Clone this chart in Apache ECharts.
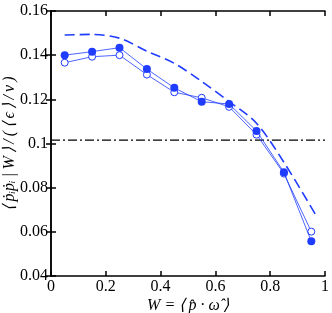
<!DOCTYPE html>
<html><head><meta charset="utf-8">
<script src="https://cdn.jsdelivr.net/npm/echarts@6/dist/echarts.min.js"></script>
<style>html,body{margin:0;padding:0;background:#fff}#c{width:332px;height:313px}</style>
</head><body><div id="c"></div>
<script>
const W = [0.05, 0.15, 0.25, 0.35, 0.45, 0.55, 0.65, 0.75, 0.85, 0.95];
const filled = [0.140, 0.1416, 0.1434, 0.1337, 0.1252, 0.1189, 0.1179, 0.1057, 0.0870, 0.0557];
const open = [0.1366, 0.1393, 0.1400, 0.1312, 0.1232, 0.1207, 0.1166, 0.1040, 0.0864, 0.0601];
const dashedW = [0.05, 0.15, 0.25, 0.35, 0.45, 0.55, 0.65, 0.75, 0.85, 0.97];
const dashedV = [0.1491, 0.1494, 0.1477, 0.1418, 0.1363, 0.1281, 0.1190, 0.1092, 0.0915, 0.0669];
const refLevel = 0.1015;
const xTicks = [0, 0.2, 0.4, 0.6, 0.8, 1];
const yTicks = [0.04, 0.06, 0.08, 0.1, 0.12, 0.14, 0.16];

const blue = '#1f3cff';
const serif = 'Liberation Serif';
const pair = (xs, ys) => xs.map((x, i) => [x, ys[i]]);
const fmt = v => String(+(+v).toFixed(2));
const t = '\u2009';

const chart = echarts.init(document.getElementById('c'));
const axisCommon = {
  axisLine: {show: true, lineStyle: {color: '#000', width: 1.5}},
  axisTick: {show: true, inside: true, length: 5, lineStyle: {color: '#000', width: 1.5}},
  splitLine: {show: false}
};
chart.setOption({
  animation: false,
  grid: {left: 51, right: 7, top: 11, bottom: 37, containLabel: false, outerBoundsMode: 'none'},
  xAxis: [
    Object.assign({type: 'value', min: 0, max: 1, interval: 0.2, position: 'bottom',
      axisLabel: {formatter: fmt, fontFamily: serif, fontSize: 16, color: '#000', margin: 3},
      name: 'W = ⟨' + t + 'p̂ · ω̂' + t + '⟩', nameLocation: 'middle', nameGap: 22, nameMoveOverlap: false,
      nameTextStyle: {fontFamily: serif, fontStyle: 'italic', fontSize: 16, color: '#000'}}, axisCommon),
    Object.assign({type: 'value', min: 0, max: 1, interval: 0.2, position: 'top',
      axisLabel: {show: false}}, axisCommon)
  ],
  yAxis: [
    Object.assign({type: 'value', min: 0.04, max: 0.16, interval: 0.02, position: 'left',
      axisLabel: {formatter: fmt, fontFamily: serif, fontSize: 16, color: '#000', margin: 3},
      name: '⟨' + t + 'ṗᵢṗᵢ' + t + '|' + t + 'W' + t + '⟩' + t + '/' + t + '(' + t + '⟨' + t + 'ϵ' + t + '⟩' + t + '/' + t + 'ν' + t + ')',
      nameLocation: 'middle', nameGap: 33, nameMoveOverlap: false,
      nameTextStyle: {fontFamily: serif, fontStyle: 'italic', fontSize: 16, color: '#000'}}, axisCommon),
    Object.assign({type: 'value', min: 0.04, max: 0.16, interval: 0.02, position: 'right',
      axisLabel: {show: false}}, axisCommon)
  ],
  series: [
    {type: 'line', data: [[0, refLevel], [1, refLevel]], symbol: 'none',
      lineStyle: {color: '#000', width: 1.2, type: [9, 3, 2, 3]}, z: 1},
    {type: 'line', data: pair(dashedW, dashedV), symbol: 'none', smooth: 0.3,
      lineStyle: {color: blue, width: 1.6, type: [10, 5]}, z: 2},
    {type: 'line', data: pair(W, open), symbol: 'circle', symbolSize: 7,
      itemStyle: {color: '#fff', borderColor: blue, borderWidth: 1},
      lineStyle: {color: blue, width: 0.8}, z: 3},
    {type: 'line', data: pair(W, filled), symbol: 'circle', symbolSize: 8,
      itemStyle: {color: blue, borderColor: blue, borderWidth: 0},
      lineStyle: {color: blue, width: 0.8}, z: 4}
  ]
});
</script></body></html>
